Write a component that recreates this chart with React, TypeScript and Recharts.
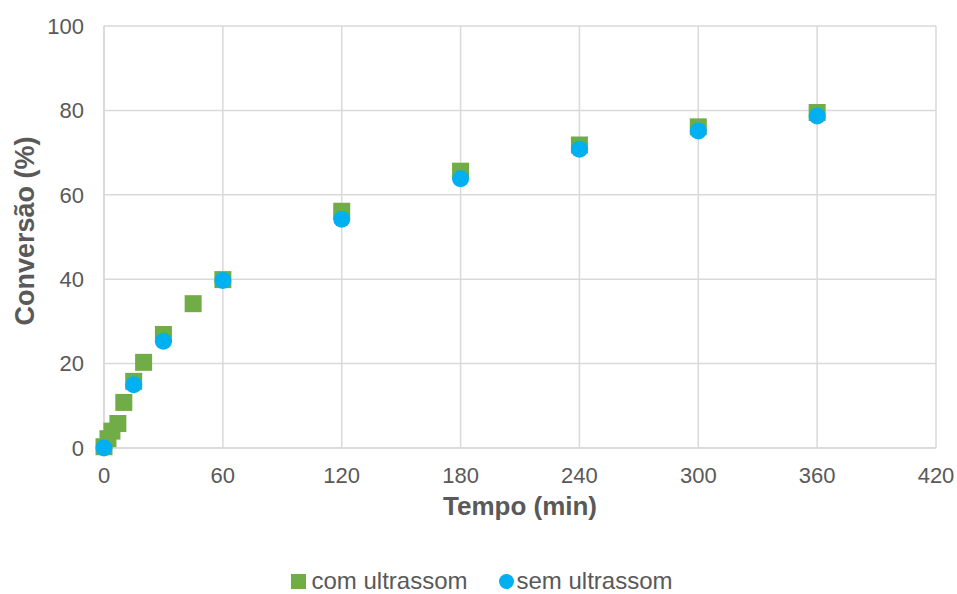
import React from "react";
import {
  ScatterChart,
  Scatter,
  XAxis,
  YAxis,
  CartesianGrid,
  Legend,
} from "recharts";

// tempo (min) e conversão (%)
const tempoCom = [0, 2, 4, 7, 10, 15, 20, 30, 45, 60, 120, 180, 240, 300, 360];
const conversaoCom = [0.3, 2.2, 4.0, 5.8, 10.8, 15.8, 20.3, 26.9, 34.2, 39.9, 56.1, 65.6, 71.8, 76.1, 79.5];

const tempoSem = [0, 15, 30, 60, 120, 180, 240, 300, 360];
const conversaoSem = [0.0, 15.0, 25.3, 39.7, 54.2, 63.8, 70.8, 75.1, 78.7];

const xTicks = [0, 60, 120, 180, 240, 300, 360, 420];
const yTicks = [0, 20, 40, 60, 80, 100];

const GREEN = "#70AD47";
const BLUE = "#00B0F0";
const TEXT = "#595959";
const GRID = "#D9D9D9";
const FONT = "'Liberation Sans', Arial, sans-serif";

const comData = tempoCom.map((t, i) => ({ tempo: t, conv: conversaoCom[i] }));
const semData = tempoSem.map((t, i) => ({ tempo: t, conv: conversaoSem[i] }));

const SquareDot = (props: any) => {
  const { cx, cy } = props;
  return <rect x={cx - 8.5} y={cy - 8.5} width={17} height={17} fill={GREEN} />;
};

const CircleDot = (props: any) => {
  const { cx, cy } = props;
  return <circle cx={cx} cy={cy} r={8.5} fill={BLUE} />;
};

const XTitle = (props: any) => {
  const { x, y, width } = props.viewBox;
  return (
    <text x={x + width / 2} y={y + 67} textAnchor="middle" fill={TEXT} fontSize={26} fontWeight="bold" fontFamily={FONT}>
      Tempo (min)
    </text>
  );
};

const YTitle = (props: any) => {
  const { x, y, height } = props.viewBox;
  const cx = x + 34;
  const cy = y + height / 2 - 6;
  return (
    <text
      x={cx}
      y={cy}
      transform={`rotate(-90, ${cx}, ${cy})`}
      textAnchor="middle"
      fill={TEXT}
      fontSize={27}
      fontWeight="bold"
      fontFamily={FONT}
    >
      Conversão (%)
    </text>
  );
};

const LegendContent = () => (
  <div
    style={{
      display: "flex",
      justifyContent: "center",
      alignItems: "center",
      height: 26,
      paddingLeft: 28,
      boxSizing: "border-box",
      fontFamily: FONT,
      fontSize: 24,
      color: TEXT,
    }}
  >
    <span style={{ display: "inline-block", width: 15, height: 15, background: GREEN, marginRight: 5 }} />
    <span style={{ marginRight: 31 }}>com ultrassom</span>
    <span style={{ display: "inline-block", width: 15, height: 15, borderRadius: "50%", background: BLUE, marginRight: 3 }} />
    <span>sem ultrassom</span>
  </div>
);

export default function App() {
  return (
    <div style={{ position: "absolute", left: 0, top: 0, width: 957, height: 594, background: "#fff", fontFamily: FONT }}>
      <ScatterChart width={957} height={594} margin={{ top: 26, right: 21, left: 0, bottom: 0 }}>
        <CartesianGrid stroke={GRID} strokeWidth={1.5} />
        <XAxis
          type="number"
          dataKey="tempo"
          domain={[0, 420]}
          ticks={xTicks}
          height={120}
          tickSize={0}
          tickMargin={19}
          axisLine={{ stroke: GRID, strokeWidth: 1.5 }}
          tick={{ fill: TEXT, fontSize: 22, fontFamily: FONT }}
          label={<XTitle />}
        />
        <YAxis
          type="number"
          dataKey="conv"
          domain={[0, 100]}
          ticks={yTicks}
          width={104}
          tickSize={0}
          tickMargin={20}
          axisLine={{ stroke: GRID, strokeWidth: 1.5 }}
          tick={{ fill: TEXT, fontSize: 22, fontFamily: FONT }}
          label={<YTitle />}
        />
        <Legend verticalAlign="bottom" wrapperStyle={{ height: 26 }} content={<LegendContent />} />
        <Scatter name="com ultrassom" data={comData} fill={GREEN} shape={<SquareDot />} isAnimationActive={false} />
        <Scatter name="sem ultrassom" data={semData} fill={BLUE} shape={<CircleDot />} isAnimationActive={false} />
      </ScatterChart>
    </div>
  );
}
